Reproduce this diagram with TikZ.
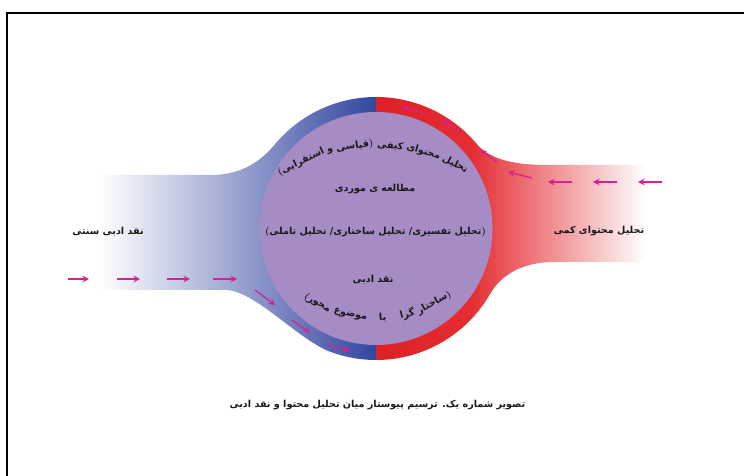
\documentclass[tikz,border=0pt]{standalone}
\usepackage{fontspec}
\TeXXeTstate=1
\newfontfamily\fa[Script=Arabic]{DejaVu Sans}
\usetikzlibrary{arrows.meta}
\definecolor{bdark}{RGB}{50,70,160}
\definecolor{rdark}{RGB}{222,32,38}
\definecolor{rmid}{RGB}{228,45,50}
\definecolor{lav}{RGB}{166,140,196}
\definecolor{mag}{RGB}{214,32,148}
\newcommand\myLP{{\normalfont\bfseries(}}
\newcommand\myRP{{\normalfont\bfseries)}}
\newcommand\lblfont{\fa\bfseries\fontsize{9.6}{11}\selectfont}
\newlength\myW
\pgfdeclarehorizontalshading{blueshade}{100bp}{color(0bp)=(white); color(25bp)=(white); color(32bp)=(white); color(75bp)=(bdark); color(100bp)=(bdark)}
\pgfdeclarehorizontalshading{redshade}{100bp}{color(0bp)=(rdark); color(25bp)=(rdark); color(40bp)=(rmid); color(68bp)=(white); color(100bp)=(white)}
\tikzset{
  lbl/.style={font=\lblfont, inner sep=0pt, text=black!90},
  flow/.style={draw=mag, line width=1.3pt, -{Stealth[length=6.5pt,width=6.5pt]}},
  frame/.style={line width=2pt, draw=black}
}
% centre angle of a word on an arc: #1 macro, #2 gap after (pt), #3 radius, #4 direction (+1/-1), #5 content
\newcommand\arcpos[5]{%
  \settowidth\myW{\lblfont #5}%
  \pgfmathsetmacro\myHw{\myW/2/#3*57.29578}%
  \pgfmathsetmacro#1{\myCur+#4*\myHw}%
  \pgfmathsetmacro\myCur{#1+#4*(\myHw+#2/#3*57.29578)}%
  \global\let#1#1%
}
\begin{document}
\def\myCur{58.5}
\arcpos\aTa{3.2}{174}{1}{\beginR تحلیل\endR}
\arcpos\aTb{3.2}{174}{1}{\beginR محتوای\endR}
\arcpos\aTc{4}{174}{1}{\beginR کیفی\endR}
\arcpos\aTd{3.2}{174}{1}{\beginR قیاسی\endR\myRP}
\arcpos\aTe{3.2}{174}{1}{\beginR و\endR}
\arcpos\aTf{0}{174}{1}{\myLP\beginR استقرایی\endR}
\def\myCur{307.6}
\arcpos\aBa{3}{121}{-1}{\beginR ساختار\endR\myRP}
\arcpos\aBb{14}{121}{-1}{\beginR گرا\endR}
\arcpos\aBc{12}{121}{-1}{\beginR یا\endR}
\arcpos\aBd{4}{121}{-1}{\beginR موضوع\endR}
\arcpos\aBe{0}{121}{-1}{\myLP\beginR محور\endR}
\begin{tikzpicture}[x=1pt,y=1pt]
\useasboundingbox (0,0) rectangle (744,476);
% frame
\coordinate (f1) at (6.5,0);
\coordinate (f2) at (6.5,462.5);
\coordinate (f3) at (744,462.5);
\draw[frame] (f1) -- (f2) -- (f3);
% blue (left) shape
\path[shading=blueshade]
  (55,301) -- (210,301) .. controls (240,301) and (259.2,312.9) .. (275.26,332.03)
  arc[start angle=140, end angle=90, radius=131.5]
  -- (376,116)
  arc[start angle=270, end angle=250, radius=131.5]
  .. controls (298.1,135.9) and (255,186) .. (225,186)
  -- (55,186) -- cycle;
% red (right) shape
\path[shading=redshade]
  (376,379) arc[start angle=90, end angle=40, radius=131.5]
  .. controls (492.8,312.9) and (525,311) .. (550,311)
  -- (690,311) -- (690,214) -- (555,214)
  .. controls (525,214) and (502.4,203.4) .. (489.88,181.75)
  arc[start angle=330, end angle=270, radius=131.5]
  -- cycle;
% inner disc
\coordinate (c) at (376,247.5);
\fill[lav] (c) circle[radius=116.5];
% arrows left
\foreach \i/\ax/\ay/\bx/\by in {1/68/197/89/197, 2/117/197/140/197, 3/167/197/190/197, 4/213/197/237/197,
  5/255/186/275/171, 6/292/156/310/143, 7/328/131/350/125}{
  \coordinate (la\i) at (\ax,\ay); \coordinate (lb\i) at (\bx,\by);
  \draw[flow] (la\i) -- (lb\i);
}
% arrows right
\foreach \i/\ax/\ay/\bx/\by in {1/662/294/638/294, 2/617/294/593/294, 3/572/294/548/294, 4/532/298/508/304,
  5/497/314/480/326, 6/460/344/442/356, 7/423/363/402/369}{
  \coordinate (ra\i) at (\ax,\ay); \coordinate (rb\i) at (\bx,\by);
  \draw[flow] (ra\i) -- (rb\i);
}
% curved top text
\coordinate (ctop) at (376,157);
\path (ctop) ++(\aTa:174) node[lbl, rotate=\aTa-90] (t1) {\beginR تحلیل\endR};
\path (ctop) ++(\aTb:174) node[lbl, rotate=\aTb-90] (t2) {\beginR محتوای\endR};
\path (ctop) ++(\aTc:174) node[lbl, rotate=\aTc-90] (t3) {\beginR کیفی\endR};
\path (ctop) ++(\aTd:174) node[lbl, rotate=\aTd-90] (t4) {\beginR قیاسی\endR\myRP};
\path (ctop) ++(\aTe:174) node[lbl, rotate=\aTe-90] (t5) {\beginR و\endR};
\path (ctop) ++(\aTf:174) node[lbl, rotate=\aTf-90] (t6) {\myLP\beginR استقرایی\endR};
% curved bottom text
\coordinate (cbot) at (376,279);
\path (cbot) ++(\aBa:121) node[lbl, rotate=\aBa+90] (b1) {\beginR ساختار\endR\myRP};
\path (cbot) ++(\aBb:121) node[lbl, rotate=\aBb+90] (b2) {\beginR گرا\endR};
\path (cbot) ++(\aBc:121) node[lbl, rotate=\aBc+90] (b3) {\beginR یا\endR};
\path (cbot) ++(\aBd:121) node[lbl, rotate=\aBd+90] (b4) {\beginR موضوع\endR};
\path (cbot) ++(\aBe:121) node[lbl, rotate=\aBe+90] (b5) {\myLP\beginR محور\endR};
% straight texts
\node[lbl] (case) at (375,287) {\beginR مطالعه ی موردی\endR};
\node[lbl] (types) at (375.5,244) {\myLP\beginR تحلیل تفسیری\kern0pt/ تحلیل ساختاری\kern0pt/ تحلیل تاملی\endR\myRP};
\node[lbl] (lit) at (373,196) {\beginR نقد ادبی\endR};
\node[lbl] (trad) at (108,244) {\beginR نقد ادبی سنتی\endR};
\node[lbl] (quant) at (599,245) {\beginR تحلیل محتوای کمی\endR};
\node[lbl] (cap) at (377.5,71) {\beginR تصویر شماره یک\kern0pt. ترسیم پیوستار میان تحلیل محتوا و نقد ادبی\endR};
\end{tikzpicture}
\end{document}
